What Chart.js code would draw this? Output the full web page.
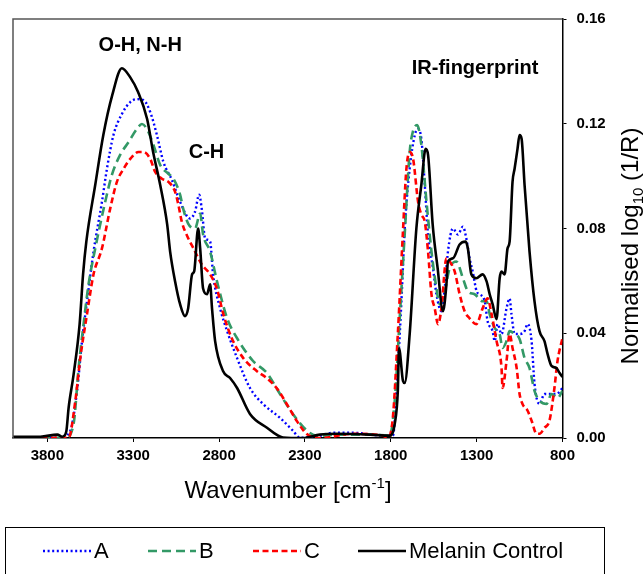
<!DOCTYPE html>
<html>
<head>
<meta charset="utf-8">
<script src="https://cdn.jsdelivr.net/npm/chart.js@4/dist/chart.umd.min.js"></script>
<style>
html,body{margin:0;padding:0;background:#fff;}
canvas{display:block;}
</style>
</head>
<body>
<canvas id="c" width="644" height="574"></canvas>
<script>
// ---- Data (wavenumber in cm-1, normalised log10(1/R)) ----
const seriesNames = ["A", "B", "C", "Melanin Control"];
const xTicks = [3800, 3300, 2800, 2300, 1800, 1300, 800];
const yTicks = [0, 0.04, 0.08, 0.12, 0.16];

const aWn  = [4000,3724,3666,3627,3598,3569,3531,3482,3453,3415,3366,3317,3279,3240,3201,3162,3124,3075,3027,2969,2940,2916,2901,2881,2852,2835,2794,2753,2695,2620,2544,2445,2370,2329,2213,2137,2021,1847,1788,1759,1738,1719,1690,1660,1641,1622,1602,1583,1554,1534,1505,1486,1467,1438,1409,1380,1360,1341,1323,1300,1283,1253,1236,1207,1195,1178,1155,1126,1108,1097,1079,1050,1021,1003,980,963,934,905,864,835,800];
const aVal = [0.0002,0.0001,0.0028,0.018,0.037,0.0522,0.0712,0.0902,0.1028,0.1157,0.1237,0.1283,0.1294,0.129,0.1245,0.1157,0.1054,0.0986,0.0902,0.0838,0.0864,0.0929,0.0876,0.0762,0.075,0.0625,0.0495,0.0408,0.0305,0.0191,0.013,0.0077,0.0028,0.0001,0.0009,0.002,0.002,0.0009,0.0009,0.0267,0.0522,0.0797,0.1028,0.1157,0.118,0.1142,0.0967,0.0777,0.0648,0.0549,0.0484,0.0571,0.0712,0.080,0.0777,0.0807,0.0762,0.0686,0.0636,0.056,0.0549,0.0522,0.0446,0.0408,0.037,0.0435,0.0397,0.0495,0.0533,0.0473,0.0397,0.0397,0.0408,0.0435,0.037,0.0207,0.013,0.0168,0.0168,0.0168,0.0191];

const bWn  = [4000,3695,3647,3618,3589,3560,3521,3463,3424,3376,3327,3279,3249,3220,3182,3143,3095,3066,3027,3009,2980,2940,2910,2893,2852,2812,2753,2695,2602,2521,2445,2370,2288,2230,2097,1922,1806,1777,1748,1719,1690,1672,1647,1622,1592,1563,1534,1515,1486,1457,1418,1380,1351,1312,1265,1242,1224,1195,1166,1149,1126,1108,1079,1050,1021,992,963,934,893,864,829,800];
const bVal = [0.0002,0.0001,0.0054,0.0267,0.0435,0.0587,0.0724,0.0902,0.1005,0.1081,0.113,0.118,0.1199,0.118,0.1119,0.1043,0.1009,0.099,0.0929,0.0876,0.0819,0.080,0.0857,0.0777,0.0712,0.0598,0.0457,0.0381,0.0294,0.0248,0.0168,0.0092,0.0028,0.0009,0.0013,0.0013,0.0009,0.0142,0.0457,0.0777,0.1092,0.1168,0.1195,0.1119,0.0902,0.0712,0.0571,0.0511,0.056,0.0648,0.0674,0.061,0.056,0.0549,0.0522,0.0522,0.0473,0.042,0.0397,0.0344,0.037,0.0408,0.0397,0.0378,0.0306,0.0267,0.018,0.0142,0.013,0.0168,0.0153,0.018];

const cWn  = [4000,3676,3637,3608,3569,3531,3482,3434,3395,3356,3317,3269,3240,3201,3172,3133,3095,3056,3037,3017,2979,2949,2901,2852,2813,2775,2726,2659,2581,2523,2465,2406,2348,2291,2232,2213,2021,1847,1817,1788,1759,1730,1709,1690,1670,1641,1622,1602,1583,1563,1544,1525,1505,1476,1457,1428,1399,1370,1341,1302,1265,1236,1213,1184,1155,1149,1126,1108,1091,1067,1050,1033,1003,980,951,934,905,876,847,829,800];
const cVal = [0.0002,0.0001,0.0142,0.0306,0.0473,0.0625,0.0724,0.0876,0.0978,0.1028,0.1066,0.1092,0.1092,0.1066,0.1016,0.099,0.0978,0.094,0.0891,0.0826,0.0762,0.0724,0.0663,0.0625,0.0571,0.0473,0.0381,0.0305,0.0256,0.0229,0.0191,0.013,0.0066,0.0016,0.0001,0.0,0.0016,0.0009,0.0001,0.0077,0.0397,0.0777,0.1028,0.1092,0.1066,0.0902,0.0853,0.0826,0.0712,0.0549,0.0495,0.0435,0.0495,0.0686,0.0674,0.0636,0.0549,0.0484,0.0457,0.0435,0.0495,0.0533,0.0473,0.037,0.0267,0.0191,0.0294,0.0397,0.0344,0.0267,0.0168,0.013,0.0104,0.0066,0.0016,0.0016,0.0039,0.0066,0.0191,0.0294,0.0382];

const mWn  = [4000,3841,3742,3713,3690,3676,3647,3612,3592,3573,3521,3474,3422,3366,3317,3271,3219,3184,3143,3102,3085,3056,3027,2998,2980,2957,2945,2922,2910,2893,2870,2852,2841,2823,2777,2736,2695,2620,2521,2428,2312,2213,2114,1922,1806,1777,1759,1752,1729,1719,1690,1651,1622,1597,1583,1556,1527,1496,1476,1467,1438,1399,1364,1351,1331,1302,1265,1242,1224,1207,1184,1166,1155,1137,1120,1108,1091,1079,1062,1050,1038,1021,992,963,934,905,887,864,835,817,800];
const mVal = [0.0005,0.0005,0.0013,0.0005,0.0024,0.0116,0.0243,0.0435,0.0625,0.075,0.0967,0.1157,0.1309,0.1412,0.1377,0.132,0.1218,0.1092,0.0967,0.0815,0.0712,0.0598,0.0511,0.0465,0.0495,0.0625,0.0636,0.080,0.0724,0.0571,0.0549,0.0587,0.0495,0.037,0.0256,0.0229,0.0191,0.0092,0.0039,0.0002,0.0,0.0013,0.0016,0.0013,0.0009,0.0054,0.018,0.0343,0.0218,0.021,0.0397,0.080,0.0967,0.1104,0.1081,0.0815,0.0648,0.0484,0.0587,0.0674,0.0686,0.0739,0.075,0.0724,0.0625,0.061,0.0625,0.0598,0.0549,0.0511,0.0454,0.061,0.0636,0.0625,0.0724,0.075,0.0978,0.1028,0.1104,0.1157,0.1142,0.0967,0.0712,0.0522,0.0408,0.037,0.0321,0.0275,0.0267,0.0248,0.0233];

const annotations = [
  {text: "O-H, N-H", wn: 3259, v: 0.150},
  {text: "C-H", wn: 2873, v: 0.109},
  {text: "IR-fingerprint", wn: 1309, v: 0.141}
];

// ---- Styles ----
const FONT = "'Liberation Sans', Arial, Helvetica, sans-serif";
const styles = [
  {color: "#0000FF", dash: [2, 2.6], width: 2.4, order: 3},
  {color: "#339966", dash: [9, 5], width: 2.6, order: 2},
  {color: "#FF0000", dash: [6, 3.5], width: 2.6, order: 1},
  {color: "#000000", dash: [], width: 2.6, order: 0}
];

function pts(w, v) { return w.map((x, i) => ({x: x, y: v[i]})); }
const allData = [pts(aWn, aVal), pts(bWn, bVal), pts(cWn, cVal), pts(mWn, mVal)];

const datasets = allData.map((d, i) => ({
  label: seriesNames[i],
  data: d,
  borderColor: styles[i].color,
  borderWidth: styles[i].width,
  borderDash: styles[i].dash,
  borderCapStyle: 'butt',
  pointRadius: 0,
  fill: false,
  cubicInterpolationMode: 'monotone',
  order: styles[i].order
}));

const decor = {
  id: 'decor',
  afterDraw(chart) {
    const ctx = chart.ctx;
    const a = chart.chartArea;
    const xs = chart.scales.x, ys = chart.scales.y;
    ctx.save();
    // top + left frame
    ctx.strokeStyle = '#555';
    ctx.lineWidth = 1.5;
    ctx.beginPath();
    ctx.moveTo(a.left, a.bottom);
    ctx.lineTo(a.left, a.top);
    ctx.lineTo(a.right, a.top);
    ctx.stroke();

    // annotations
    ctx.fillStyle = '#000';
    ctx.font = 'bold 20px ' + FONT;
    ctx.textAlign = 'center';
    ctx.textBaseline = 'middle';
    annotations.forEach(an => {
      ctx.fillText(an.text, xs.getPixelForValue(an.wn), ys.getPixelForValue(an.v));
    });

    // x-axis title with superscript
    ctx.textBaseline = 'alphabetic';
    ctx.textAlign = 'left';
    const big = '24px ' + FONT, small = '15px ' + FONT;
    const p1 = 'Wavenumber [cm', p2 = '-1', p3 = ']';
    ctx.font = big; const w1 = ctx.measureText(p1).width, w3 = ctx.measureText(p3).width;
    ctx.font = small; const w2 = ctx.measureText(p2).width;
    let x0 = 288 - (w1 + w2 + w3) / 2, yb = 498;
    ctx.font = big; ctx.fillText(p1, x0, yb);
    ctx.font = small; ctx.fillText(p2, x0 + w1, yb - 10);
    ctx.font = big; ctx.fillText(p3, x0 + w1 + w2, yb);

    // y-axis title with subscript (rotated)
    ctx.save();
    ctx.translate(638, 246);
    ctx.rotate(-Math.PI / 2);
    const q1 = 'Normalised log', q2 = '10', q3 = ' (1/R)';
    ctx.font = big; const v1 = ctx.measureText(q1).width, v3 = ctx.measureText(q3).width;
    ctx.font = small; const v2 = ctx.measureText(q2).width;
    let s0 = -(v1 + v2 + v3) / 2;
    ctx.font = big; ctx.fillText(q1, s0, 0);
    ctx.font = small; ctx.fillText(q2, s0 + v1, 5);
    ctx.font = big; ctx.fillText(q3, s0 + v1 + v2, 0);
    ctx.restore();

    // legend
    ctx.strokeStyle = '#000';
    ctx.lineWidth = 1;
    ctx.setLineDash([]);
    ctx.strokeRect(5.5, 527.5, 599, 60);
    const lx = [43, 148, 253, 358];
    const ly = 551;
    ctx.font = '22px ' + FONT;
    ctx.textBaseline = 'middle';
    ctx.textAlign = 'left';
    seriesNames.forEach((n, i) => {
      ctx.strokeStyle = styles[i].color;
      ctx.lineWidth = styles[i].width;
      ctx.setLineDash(styles[i].dash);
      ctx.beginPath();
      ctx.moveTo(lx[i], ly);
      ctx.lineTo(lx[i] + 48, ly);
      ctx.stroke();
      ctx.setLineDash([]);
      ctx.fillStyle = '#000';
      ctx.fillText(n, lx[i] + 51, ly + 1);
    });
    ctx.restore();
  }
};

new Chart(document.getElementById('c'), {
  type: 'line',
  data: {datasets: datasets},
  options: {
    responsive: false,
    animation: false,
    events: [],
    layout: {padding: {top: 16.5, left: 13, right: 0, bottom: 0}},
    plugins: {legend: {display: false}, tooltip: {enabled: false}, title: {display: false}},
    scales: {
      x: {
        type: 'linear', reverse: true, min: 800, max: 4000, position: 'bottom',
        afterBuildTicks: s => { s.ticks = xTicks.map(v => ({value: v})); },
        afterFit: s => { s.height = 136; },
        ticks: {color: '#000', font: {family: FONT, size: 15, weight: 'bold'}, padding: 5, maxRotation: 0, autoSkip: false,
          callback: v => String(v)},
        grid: {drawOnChartArea: false, drawTicks: true, tickLength: 4, color: '#000', lineWidth: 1},
        border: {display: true, color: '#000', width: 1.5}
      },
      y: {
        type: 'linear', position: 'right', min: 0, max: 0.16,
        afterBuildTicks: s => { s.ticks = yTicks.map(v => ({value: v})); },
        afterFit: s => { s.width = 81.5; },
        ticks: {color: '#000', font: {family: FONT, size: 15, weight: 'bold'}, padding: 10,
          callback: v => Number(v).toFixed(2)},
        grid: {drawOnChartArea: false, drawTicks: true, tickLength: 4, color: '#000', lineWidth: 1},
        border: {display: true, color: '#000', width: 1.5}
      }
    }
  },
  plugins: [decor]
});
</script>
</body>
</html>
